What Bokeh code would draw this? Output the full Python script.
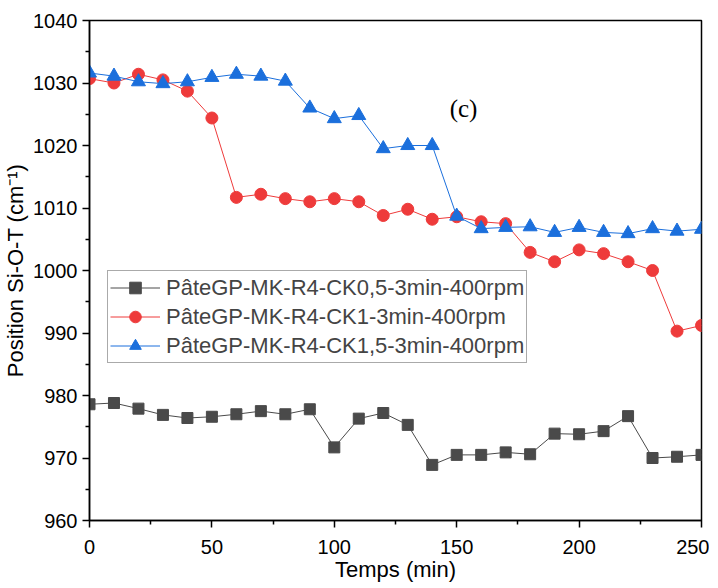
from bokeh.plotting import figure
from bokeh.models import Range1d, Legend, LegendItem, Label, FixedTicker
from bokeh.embed import file_html
from bokeh.resources import INLINE

time_min = [0, 10, 20, 30, 40, 50, 60, 70, 80, 90, 100, 110, 120, 130, 140, 150,
            160, 170, 180, 190, 200, 210, 220, 230, 240, 250]

ck05 = [978.6, 978.8, 977.9, 976.9, 976.4, 976.6, 977.0, 977.5, 977.0, 977.8, 971.7, 976.3,
        977.2, 975.3, 968.9, 970.5, 970.5, 970.9, 970.6, 973.9, 973.8, 974.3, 976.7, 970.0,
        970.2, 970.5]
ck1 = [1030.7, 1030.0, 1031.4, 1030.5, 1028.7, 1024.4, 1011.7, 1012.2, 1011.5, 1011.0,
       1011.5, 1011.0, 1008.8, 1009.8, 1008.2, 1008.6, 1007.8, 1007.5, 1002.9, 1001.4,
       1003.3, 1002.7, 1001.4, 1000.0, 990.3, 991.2]
ck15 = [1031.6, 1031.1, 1030.2, 1029.9, 1030.2, 1030.9, 1031.4, 1031.1, 1030.3, 1026.0,
        1024.3, 1024.8, 1019.5, 1020.0, 1020.0, 1008.7, 1006.7, 1006.9, 1007.0, 1006.1,
        1006.9, 1006.1, 1005.9, 1006.7, 1006.3, 1006.6]

names = ["PâteGP-MK-R4-CK0,5-3min-400rpm",
         "PâteGP-MK-R4-CK1-3min-400rpm",
         "PâteGP-MK-R4-CK1,5-3min-400rpm"]
colors = ["#4a4a4a", "#ee3b3b", "#1b6fdc"]

x_ticks = [0, 50, 100, 150, 200, 250]
y_ticks = [960, 970, 980, 990, 1000, 1010, 1020, 1030, 1040]

FONT = "Liberation Sans"

p = figure(frame_width=612, frame_height=500, output_backend="svg", toolbar_location=None,
           x_range=Range1d(0, 250), y_range=Range1d(960, 1040),
           min_border_left=82, min_border_right=8, min_border_top=20, min_border_bottom=50)
p.background_fill_color = "white"
p.border_fill_color = "white"
p.outline_line_color = "black"
p.outline_line_width = 1.5
p.xgrid.visible = False
p.ygrid.visible = False

for ax in (p.xaxis[0], p.yaxis[0]):
    ax.axis_line_width = 1.5
    ax.major_tick_line_width = 1.5
    ax.minor_tick_line_width = 1.5
    ax.major_tick_in = 0
    ax.major_tick_out = 7
    ax.minor_tick_in = 0
    ax.minor_tick_out = 4
    ax.major_label_text_font = FONT
    ax.major_label_text_font_size = "20px"
    ax.major_label_text_color = "black"
    ax.axis_label_text_font = FONT
    ax.axis_label_text_font_size = "22px"
    ax.axis_label_text_font_style = "normal"
    ax.axis_label_text_color = "black"

p.xaxis[0].major_label_standoff = 12
p.xaxis[0].axis_label_standoff = 0
p.yaxis[0].major_label_standoff = 5
p.yaxis[0].axis_label_standoff = 2

p.xaxis[0].ticker = FixedTicker(ticks=x_ticks, minor_ticks=[25, 75, 125, 175, 225])
p.yaxis[0].ticker = FixedTicker(ticks=y_ticks, minor_ticks=[965, 975, 985, 995, 1005, 1015, 1025, 1035])
p.xaxis[0].axis_label = "Temps (min)"
p.yaxis[0].axis_label = "Position Si-O-T (cm⁻¹)"

r1l = p.line(time_min, ck05, line_color=colors[0], line_width=1)
r1m = p.scatter(time_min, ck05, marker="square", size=11, fill_color=colors[0], line_color=colors[0])
r2l = p.line(time_min, ck1, line_color=colors[1], line_width=1)
r2m = p.scatter(time_min, ck1, marker="circle", size=12, fill_color=colors[1], line_color=colors[1])
r3l = p.line(time_min, ck15, line_color=colors[2], line_width=1)
r3m = p.scatter(time_min, ck15, marker="triangle", size=14, fill_color=colors[2], line_color=colors[2])

legend = Legend(items=[LegendItem(label=names[0], renderers=[r1l, r1m]),
                       LegendItem(label=names[1], renderers=[r2l, r2m]),
                       LegendItem(label=names[2], renderers=[r3l, r3m])],
                location=(18, 157))
legend.label_text_font = FONT
legend.label_text_font_size = "22px"
legend.glyph_width = 50
legend.glyph_height = 29
legend.spacing = 0
legend.padding = 2
legend.margin = 0
legend.label_standoff = 6
legend.border_line_color = "#555555"
legend.border_line_width = 1
legend.background_fill_alpha = 1
p.add_layout(legend)

p.add_layout(Label(x=152.8, y=1025.9, text="(c)", text_font="Liberation Serif",
                   text_font_size="25px", text_color="black", text_align="center",
                   text_baseline="middle"))

open("out.html", "w").write(file_html(p, INLINE))
